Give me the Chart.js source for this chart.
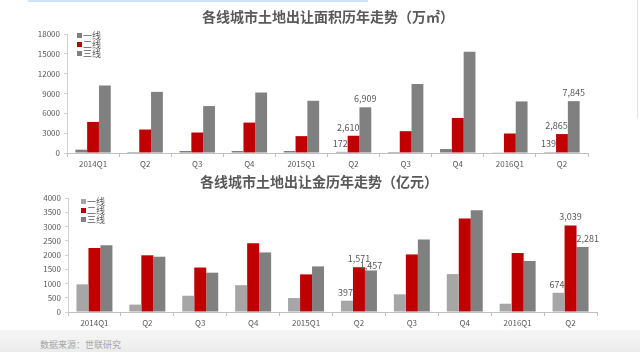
<!DOCTYPE html>
<html>
<head>
<meta charset="utf-8">
<script src="https://cdn.jsdelivr.net/npm/chart.js@4.4.1/dist/chart.umd.min.js"></script>
<style>
  html, body { margin:0; padding:0; background:#ffffff; }
  body { width:640px; height:352px; position:relative; overflow:hidden; font-family:"Noto Sans CJK SC","Noto Sans",sans-serif; }
  .title { position:absolute; font-weight:bold; font-size:14px; color:#595959; white-space:nowrap; transform:translate(-50%,-50%); letter-spacing:0px; }
  .legend { position:absolute; font-size:9px; color:#595959; line-height:9px; }
  .legend div { display:flex; align-items:center; height:9px; }
  .legend span.sw { display:inline-block; width:5px; height:5px; margin-right:1px; }
  #c1wrap { position:absolute; left:0; top:0; width:640px; height:170px; }
  #c2wrap { position:absolute; left:0; top:170px; width:640px; height:160px; }
  .band { position:absolute; left:0; top:330px; width:640px; height:22px; background:linear-gradient(#f6f6f6,#ececec); }
  .src { position:absolute; left:40px; top:338px; font-size:9px; color:#a6a6a6; }
  .blue { position:absolute; left:28px; top:0; width:340px; height:2px; background:#cfe3f5; }
  .frame { position:absolute; left:637px; top:0; width:1px; height:118px; background:#e3e3e3; }
</style>
</head>
<body>
<div class="blue"></div>
<div class="frame"></div>
<div class="band"></div>
<div id="c1wrap"><canvas id="c1" width="640" height="170"></canvas></div>
<div id="c2wrap"><canvas id="c2" width="640" height="160"></canvas></div>
<div class="title" style="left:328px;top:16px;">各线城市土地出让面积历年走势（万㎡）</div>
<div class="title" style="left:319px;top:181px;">各线城市土地出让金历年走势（亿元）</div>
<div class="legend" id="lg1" style="left:77px;top:31px;"></div>
<div class="legend" id="lg2" style="left:81px;top:197px;"></div>
<div class="src">数据来源：世联研究</div>
<script>
const categories = ['2014Q1','Q2','Q3','Q4','2015Q1','Q2','Q3','Q4','2016Q1','Q2'];
const seriesNames = ['一线','二线','三线'];

// 土地出让面积（万㎡）
const area1 = [500, 150, 300, 300, 300, 172, 150, 600, 100, 139];
const area2 = [4700, 3550, 3100, 4600, 2550, 2610, 3300, 5300, 2950, 2865];
const area3 = [10200, 9250, 7100, 9150, 7900, 6909, 10450, 15300, 7800, 7845];

// 土地出让金（亿元）
const money1 = [970, 260, 570, 940, 490, 397, 620, 1330, 290, 674];
const money2 = [2250, 1990, 1560, 2410, 1320, 1571, 2020, 3280, 2070, 3039];
const money3 = [2340, 1940, 1380, 2090, 1600, 1457, 2540, 3570, 1790, 2281];

const areaTicks = [0, 3000, 6000, 9000, 12000, 15000, 18000];
const moneyTicks = [0, 500, 1000, 1500, 2000, 2500, 3000, 3500, 4000];

const labeledIdx = [5, 9];

const colorsTop = ['#7f7f7f', '#c00000', '#808080'];
const colorsBot = ['#a6a6a6', '#c00000', '#808080'];

const FONT = '"Noto Sans CJK SC","Noto Sans",sans-serif';
const TXT = '#595959';

const valueLabels = {
  id: 'valueLabels',
  afterDatasetsDraw(chart) {
    const ctx = chart.ctx;
    ctx.save();
    ctx.font = '9px ' + FONT;
    ctx.fillStyle = TXT;
    ctx.textBaseline = 'bottom';
    const n = chart.data.datasets.length;
    const boxes = [];
    const TH = 7;
    chart.data.datasets.forEach((ds, di) => {
      const meta = chart.getDatasetMeta(di);
      labeledIdx.forEach(i => {
        const el = meta.data[i];
        const txt = ds.data[i].toLocaleString('en-US');
        const w = ctx.measureText(txt).width;
        let ly = el.y - 4;
        let x = el.x, align = 'center';
        if (di < n - 1) {
          const nxt = chart.getDatasetMeta(di + 1).data[i];
          if (nxt.y < ly) { align = 'right'; x = el.x + el.width / 2; }
        }
        if (di > 0 && align === 'center') {
          const prv = chart.getDatasetMeta(di - 1).data[i];
          if (prv.y < ly) { align = 'left'; x = el.x - el.width / 2; }
        }
        const l = align === 'center' ? x - w / 2 : align === 'right' ? x - w : x;
        const hits = () => boxes.some(b => l < b.r && l + w > b.l && ly - TH < b.b && ly > b.t);
        while (hits() && ly < el.y) ly += 1;
        boxes.push({ l: l, r: l + w, t: ly - TH, b: ly });
        ctx.textAlign = align;
        ctx.fillText(txt, x, ly);
      });
    });
    ctx.restore();
  }
};

function makeLegend(id, colors) {
  const lg = document.getElementById(id);
  seriesNames.forEach((n, i) => {
    const d = document.createElement('div');
    d.innerHTML = '<span class="sw" style="background:' + colors[i] + '"></span>' + n;
    lg.appendChild(d);
  });
}
makeLegend('lg1', colorsTop);
makeLegend('lg2', colorsBot);

function makeChart(canvasId, data, colors, ticks, layout, xH, yW) {
  return new Chart(document.getElementById(canvasId), {
    type: 'bar',
    data: {
      labels: categories,
      datasets: data.map((d, i) => ({
        label: seriesNames[i],
        data: d,
        backgroundColor: colors[i],
        borderWidth: 0,
        barPercentage: 1.0,
        categoryPercentage: 0.68
      }))
    },
    options: {
      responsive: false,
      animation: false,
      devicePixelRatio: 1,
      layout: { padding: layout },
      plugins: { legend: { display: false }, title: { display: false }, tooltip: { enabled: false } },
      scales: {
        x: {
          afterFit(s) { s.height = xH; },
          grid: { offset: true, drawOnChartArea: false, tickLength: 4, color: '#bfbfbf' },
          border: { color: '#bfbfbf' },
          ticks: { font: { size: 8, family: FONT }, color: TXT, padding: 2, maxRotation: 0, autoSkip: false }
        },
        y: {
          min: ticks[0], max: ticks[ticks.length - 1],
          afterBuildTicks(s) { s.ticks = ticks.map(v => ({ value: v })); },
          afterFit(s) { s.width = yW; },
          grid: { drawOnChartArea: false, tickLength: 3, color: '#d0d0d0' },
          border: { color: '#d0d0d0' },
          ticks: { font: { size: 8, family: FONT }, color: TXT, padding: 4, callback: v => String(v) }
        }
      }
    },
    plugins: [valueLabels]
  });
}

makeChart('c1', [area1, area2, area3], colorsTop, areaTicks, { left: 0, right: 52, top: 34, bottom: 0 }, 17, 67);
makeChart('c2', [money1, money2, money3], colorsBot, moneyTicks, { left: 0, right: 43, top: 28, bottom: 0 }, 18, 68);
</script>
</body>
</html>
